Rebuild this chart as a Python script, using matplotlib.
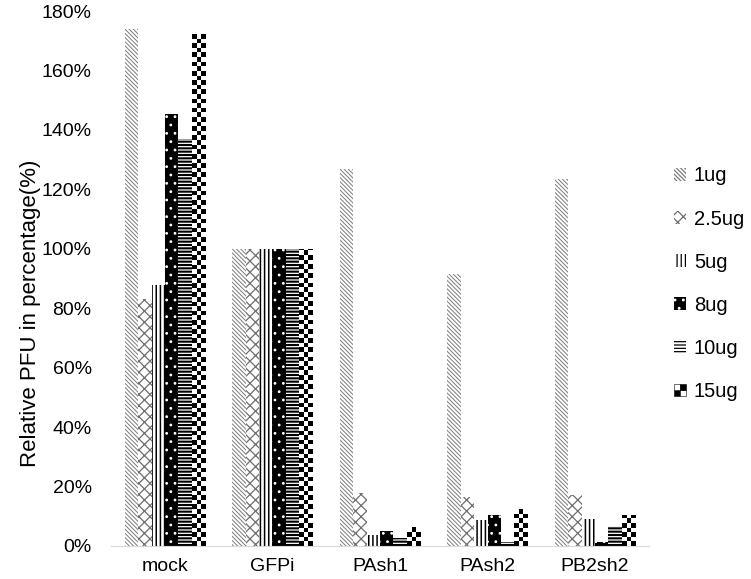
import numpy as np
import matplotlib
matplotlib.use("Agg")
import matplotlib.pyplot as plt
from matplotlib.patches import Rectangle
from matplotlib.legend_handler import HandlerBase
from matplotlib.ticker import FuncFormatter

plt.rcParams['font.family'] = ['Liberation Sans', 'DejaVu Sans']
plt.rcParams['hatch.linewidth'] = 0.9

categories = ["mock", "GFPi", "PAsh1", "PAsh2", "PB2sh2"]
series_names = ["1ug", "2.5ug", "5ug", "8ug", "10ug", "15ug"]
v_1ug = [174, 100, 127, 91.5, 123.5]
v_2_5ug = [83, 100, 17.7, 16.4, 17.2]
v_5ug = [87.8, 100, 3.7, 8.8, 9.0]
v_8ug = [145.5, 100, 5.2, 10.4, 1.2]
v_10ug = [137, 100, 2.6, 1.2, 6.8]
v_15ug = [172.5, 100, 6.4, 12.7, 10.4]
values = [v_1ug, v_2_5ug, v_5ug, v_8ug, v_10ug, v_15ug]
yticks = [0, 20, 40, 60, 80, 100, 120, 140, 160, 180]

styles = [
    dict(facecolor='white', edgecolor='#7c7c7c', hatch='\\' * 8, hlw=0.7),
    dict(facecolor='white', edgecolor='#6e6e6e', hatch='xxx', hlw=0.9),
    dict(facecolor='white', edgecolor='black', hatch='||||', hlw=1.1),
    dict(facecolor='black', edgecolor='white', hatch='..', hlw=0.8),
    dict(facecolor='white', edgecolor='black', hatch='-' * 5, hlw=1.5),
    None,  # checkerboard
]

fig = plt.figure(figsize=(7.51, 5.79), dpi=100)
ax = fig.add_axes([0.148, 0.057, 0.716, 0.924])

n = len(series_names)
group_w = 0.745
bw = group_w / n
x = np.arange(len(categories))

checker_handles = None
handles = []
for i, (name, vals) in enumerate(zip(series_names, values)):
    pos = x - group_w / 2 + bw * (i + 0.5)
    st = styles[i]
    if st is not None:
        st = dict(st)
        hlw = st.pop('hlw')
        bars = ax.bar(pos, vals, width=bw, linewidth=0, label=name, **st)
        for r in bars:
            if hasattr(r, 'set_hatch_linewidth'):
                r.set_hatch_linewidth(hlw)
        handles.append(bars)
    else:
        bars = ax.bar(pos, vals, width=bw, linewidth=0, facecolor='white',
                      edgecolor='white', label=name)
        handles.append(bars)
        checker_handles = bars
        for rect in bars:
            h = rect.get_height()
            x0 = rect.get_x()
            cell_y = 1.55
            nrows = max(1, int(round(h / cell_y)))
            ncols = 3
            yy, xx = np.mgrid[0:nrows, 0:ncols]
            board = ((yy + xx) % 2).astype(float)
            im = ax.imshow(board, cmap='gray', vmin=0, vmax=1, origin='lower',
                           extent=(x0, x0 + rect.get_width(), 0, nrows * cell_y),
                           interpolation='nearest', aspect='auto', zorder=rect.get_zorder() + 0.1)
            im.set_clip_path(rect)

ax.set_xlim(-0.5, len(categories) - 0.5)
ax.set_ylim(0, 180)
ax.set_yticks(yticks)
ax.yaxis.set_major_formatter(FuncFormatter(lambda v, p: f"{int(v)}%"))
ax.set_xticks(x)
ax.set_xticklabels(categories)
ax.tick_params(axis='both', length=0, labelsize=14, colors='black')
ax.tick_params(axis='x', pad=9)
ax.tick_params(axis='y', pad=14)
for s in ['top', 'right', 'left']:
    ax.spines[s].set_visible(False)
ax.spines['bottom'].set_color('#d9d9d9')
ax.set_ylabel("Relative PFU in percentage(%)", fontsize=16)
ax.yaxis.set_label_coords(-0.131, 0.434)


class CheckerHandler(HandlerBase):
    def create_artists(self, legend, orig_handle, xdescent, ydescent, width, height, fontsize, trans):
        s = min(width, height)
        x0 = -xdescent + (width - s)
        y0 = -ydescent + (height - s) / 2
        arts = []
        half = s / 2
        for r in range(2):
            for c in range(2):
                col = 'black' if (r + c) % 2 == 0 else 'white'
                arts.append(Rectangle((x0 + c * half, y0 + r * half), half, half,
                                      facecolor=col, edgecolor='black', linewidth=0.4,
                                      transform=trans))
        return arts


handler_map = {checker_handles: CheckerHandler()}
leg = ax.legend(handles, series_names, loc='center left', bbox_to_anchor=(1.02, 0.49),
                frameon=False, fontsize=14.5, handlelength=0.6, handleheight=0.6,
                handletextpad=0.4, labelspacing=1.2, handler_map=handler_map,
                borderaxespad=0.3)

fig.savefig("out.png", dpi=100)
